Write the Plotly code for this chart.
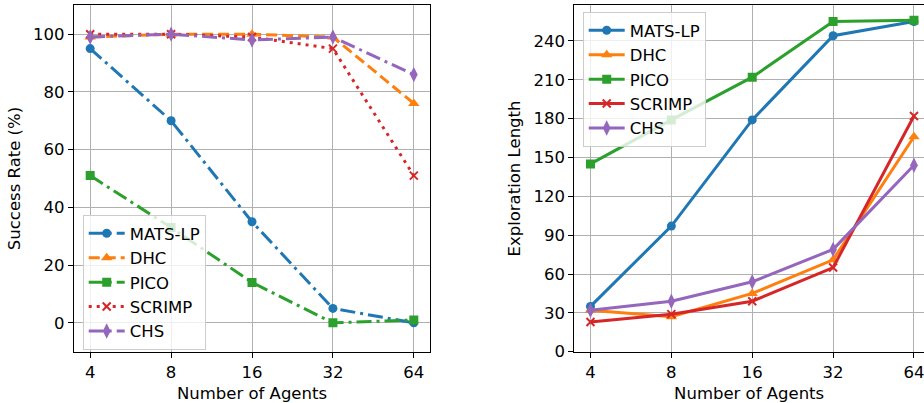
import math
import plotly.graph_objects as go

agents = [4, 8, 16, 32, 64]
tick_labels = ["4", "8", "16", "32", "64"]
methods = ["MATS-LP", "DHC", "PICO", "SCRIMP", "CHS"]

success_rate = {
    "MATS-LP": [95, 70, 35, 5, 0],
    "DHC": [99, 100, 100, 99, 76],
    "PICO": [51, 33, 14, 0, 1],
    "SCRIMP": [100, 100, 99, 95, 51],
    "CHS": [99, 100, 98, 99, 86],
}
exploration_length = {
    "MATS-LP": [35, 97, 179, 244, 255],
    "DHC": [32, 27, 45, 71, 166],
    "PICO": [145, 179, 212, 255, 256],
    "SCRIMP": [23, 29, 39, 65, 182],
    "CHS": [32, 39, 54, 79, 144],
}

colors = {"MATS-LP": "#1f77b4", "DHC": "#ff7f0e", "PICO": "#2ca02c",
          "SCRIMP": "#d62728", "CHS": "#9467bd"}
symbols = {"MATS-LP": "circle", "DHC": "triangle-up", "PICO": "square",
           "SCRIMP": "x-thin", "CHS": "diamond-tall"}
sizes = {"MATS-LP": 9, "DHC": 10, "PICO": 9, "SCRIMP": 8, "CHS": 11}
dashdot = "15px,5px,3px,5px"
dashes_left = {"MATS-LP": dashdot, "DHC": "11px,5px", "PICO": dashdot,
               "SCRIMP": "3px,5px", "CHS": dashdot}

FONT = "DejaVu Sans"
FS = 16.5
W, H = 924, 403

fig = go.Figure()

def marker(m):
    d = dict(symbol=symbols[m], size=sizes[m], color=colors[m])
    if m == "SCRIMP":
        d["line"] = dict(color=colors[m], width=2)
    else:
        d["line"] = dict(width=0)
    return d

for m in methods:
    fig.add_trace(go.Scatter(
        x=agents, y=success_rate[m], name=m, mode="lines+markers",
        line=dict(color=colors[m], width=3, dash=dashes_left[m]),
        marker=marker(m), xaxis="x", yaxis="y", legend="legend"))
for m in methods:
    fig.add_trace(go.Scatter(
        x=agents, y=exploration_length[m], name=m, mode="lines+markers",
        line=dict(color=colors[m], width=3),
        marker=marker(m), xaxis="x2", yaxis="y2", legend="legend2"))

l2 = math.log10(2)
ydom = [(H - 351.7) / H, (H - 5.3) / H]

common_ax = dict(showgrid=True, gridcolor="#b0b0b0", gridwidth=1,
                 showline=True, linecolor="black", linewidth=1.2,
                 ticks="outside", ticklen=5, tickwidth=1.2, tickcolor="black",
                 tickfont=dict(family=FONT, size=FS, color="black"),
                 zeroline=False, automargin=False, ticklabeloverflow="allow")
tfont = dict(family=FONT, size=FS, color="black")
lfont = dict(family=FONT, size=FS, color="black")

fig.update_layout(
    width=W, height=H,
    margin=dict(l=0, r=0, t=0, b=0),
    paper_bgcolor="white", plot_bgcolor="white",
    font=dict(family=FONT, size=FS, color="black"),
    xaxis=dict(common_ax, domain=[74 / W, 430 / W], type="log",
               range=[math.log10(4) - 0.2 * l2, math.log10(64) + 0.2 * l2],
               tickvals=agents, ticktext=tick_labels, mirror=True, anchor="y",
               title=dict(text="Number of Agents", font=tfont, standoff=6)),
    yaxis=dict(common_ax, domain=ydom, range=[-10, 110],
               tickvals=[0, 20, 40, 60, 80, 100], mirror=True, anchor="x",
               title=dict(text="Success Rate (%)", font=tfont, standoff=8)),
    xaxis2=dict(common_ax, domain=[574.3 / W, 1.0], type="log",
                range=[math.log10(4) - 0.2 * l2, math.log10(64) + 0.124 * l2],
                tickvals=agents, ticktext=tick_labels, mirror=True, anchor="y2",
                title=dict(text="Number of Agents", font=tfont, standoff=6)),
    yaxis2=dict(common_ax, domain=ydom, range=[0, 267.5],
                tickvals=[0, 30, 60, 90, 120, 150, 180, 210, 240], mirror=False, anchor="x2",
                title=dict(text="Exploration Length", font=tfont, standoff=8)),
    legend=dict(x=82.7 / W, y=(H - 215) / H, xanchor="left", yanchor="top",
                bgcolor="rgba(255,255,255,0.8)", bordercolor="#cccccc", borderwidth=1,
                font=lfont, tracegroupgap=0, itemwidth=36),
    legend2=dict(x=582.7 / W, y=(H - 12) / H, xanchor="left", yanchor="top",
                 bgcolor="rgba(255,255,255,0.8)", bordercolor="#cccccc", borderwidth=1,
                 font=lfont, tracegroupgap=0, itemwidth=36),
)

fig.write_html("out.html", config={"displayModeBar": False},
               post_script="document.body.style.margin='0';document.body.style.overflow='hidden';")
